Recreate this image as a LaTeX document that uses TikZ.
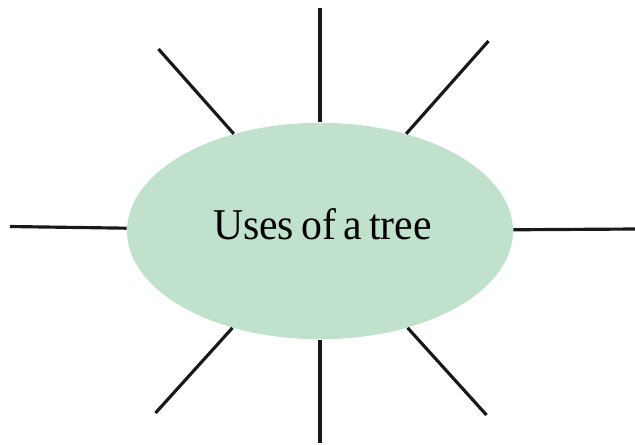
\documentclass[tikz,border=0pt]{standalone}
\usepackage{fontspec}
\setmainfont{Liberation Serif}[WordSpace=0.7,FakeStretch=0.95]
\usetikzlibrary{shapes.geometric}
\definecolor{leafgreen}{RGB}{192,226,204}
\tikzstyle{blob}=[ellipse, fill=leafgreen, minimum width=7.72cm, minimum height=4.33cm, inner sep=0pt]
\tikzstyle{title}=[font=\fontsize{25}{30}\selectfont, inner sep=0pt]
\tikzstyle{spoke}=[black!90, line width=1.8pt]

\begin{document}
\begin{tikzpicture}
				\useasboundingbox (-6.4,-4.26) rectangle (6.3,4.62);
				\node[blob] (tree) at (0,0) {};
				\node[title] (name) at ([shift={(0.05,0.13)}] tree.center) {Uses of a tree};
				\coordinate (top) at (0,4.46);
				\coordinate (bot) at (0,-4.24);
				\coordinate (lft) at (-6.2,0.09);
				\coordinate (rgt) at (6.3,0.04);
				\coordinate (ul) at (-3.23,3.64);
				\coordinate (ur) at (3.37,3.80);
				\coordinate (ll) at (-3.29,-3.64);
				\coordinate (lr) at (3.33,-3.68);
				\foreach \e in {top,bot,lft,rgt,ul,ur,ll,lr}
					\draw[spoke] (tree) -- (\e);
			\end{tikzpicture}
\end{document}
